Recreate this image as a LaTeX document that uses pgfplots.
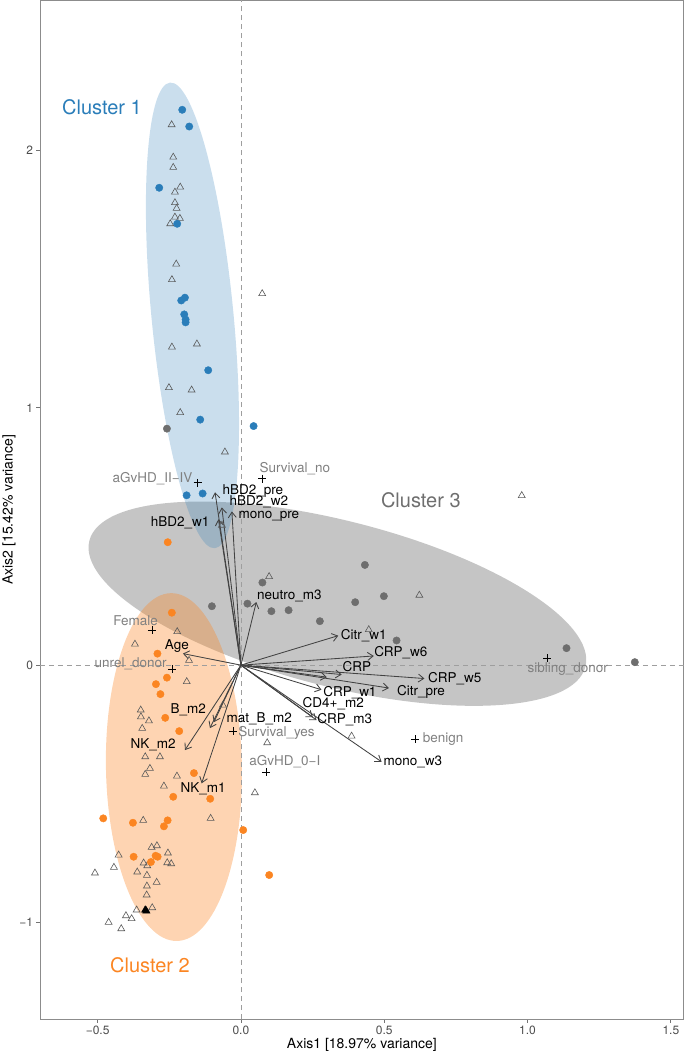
\documentclass[border=0pt]{standalone}
\usepackage{pgfplots}
\pgfplotsset{compat=1.18}
\usepackage{fontspec}
\setmainfont{TeX Gyre Heros}
\usetikzlibrary{arrows.meta}
\definecolor{cA}{HTML}{2A7DB9}
\definecolor{cB}{HTML}{FB8522}
\definecolor{cC}{HTML}{6E6E6E}
\definecolor{cE}{HTML}{7F7F7F}
\definecolor{supp}{HTML}{808080}
\newcommand{\arr}[2]{\addplot[black!74, line width=0.85pt, -{Straight Barb[length=5.5pt,width=8pt,line width=0.85pt]}] coordinates {(0,0) (#1,#2)};}
\newcommand{\lab}[3]{\node[font=\fontsize{13.5}{15}\selectfont, text=black, inner sep=0pt] at (axis cs:#1,#2) {#3};}
\newcommand{\slab}[3]{\node[font=\fontsize{13.5}{15}\selectfont, text=supp, inner sep=0pt] at (axis cs:#1,#2) {#3};}
\begin{document}
\begin{tikzpicture}
\begin{axis}[
  at={(0,0)}, anchor=south west,
  scale only axis, width=644pt, height=1019pt,
  xmin=-0.701, xmax=1.545, ymin=-1.375, ymax=2.583,
  axis line style={draw=black!45, line width=0.7pt},
  xtick={-0.5,0,0.5,1,1.5}, xticklabels={−0.5,0.0,0.5,1.0,1.5},
  ytick={-1,0,1,2}, yticklabels={−1,0,1,2},
  tick align=outside, tick pos=left, major tick length=3.5pt,
  tick style={draw=black!55, line width=0.7pt},
  ticklabel style={font=\fontsize{12}{13}\selectfont, text=black!70},
  xlabel={Axis1 [18.97\% variance]}, ylabel={Axis2 [15.42\% variance]},
  every axis x label/.style={at={(axis description cs:0.5,-0.0255)}, anchor=center, font=\fontsize{14}{16}\selectfont},
  every axis y label/.style={at={(axis description cs:-0.0482,0.5)}, anchor=center, rotate=90, font=\fontsize{14}{16}\selectfont},
  clip=false,
]
% ellipses
\fill[cE, opacity=0.45, rotate around={-14.25:(axis cs:0.3366,0.2388)}] (axis cs:0.3366,0.2388) ellipse [x radius=256pt, y radius=83pt];
\fill[cA, opacity=0.25, rotate around={5.5:(axis cs:-0.169,1.359)}] (axis cs:-0.169,1.359) ellipse [x radius=41pt, y radius=234pt];
\fill[cB, opacity=0.35, rotate around={1:(axis cs:-0.2337,-0.396)}] (axis cs:-0.2337,-0.396) ellipse [x radius=68pt, y radius=174pt];
% reference lines
\addplot[black!38, line width=0.8pt, dash pattern=on 5pt off 4pt] coordinates {(0,-1.375) (0,2.583)};
\addplot[black!38, line width=0.8pt, dash pattern=on 5pt off 4pt] coordinates {(-0.701,0) (1.545,0)};
% triangles
\addplot[only marks, color=black!65, mark=triangle, mark size=4pt, mark options={line width=0.6pt}] coordinates {
(-0.2417,2.0998) (-0.2361,1.974) (-0.2361,1.934) (-0.2117,1.8575) (-0.2302,1.838)
(-0.2302,1.797) (-0.2243,1.775) (-0.2302,1.741) (-0.2128,1.736) (-0.2466,1.715)
(-0.2257,1.5585) (-0.2407,1.498) (-0.2407,1.236) (-0.1535,1.248) (-0.2511,1.0784)
(-0.172,1.069) (-0.2117,0.9814) (0.0743,1.4435) (-0.0558,0.8283) (0.9798,0.659)
(0.0984,0.3441) (0.6226,0.2718) (0.4461,0.1379) (-0.2222,0.1301) (-0.3697,0.0816)
(-0.181,0.0186) (-0.189,-0.0641) (-0.3495,-0.1744) (-0.0663,0.5437) (0.3861,-0.2757)
(0.0917,-0.3017) (-0.0628,-0.1553) (-0.2825,-0.3561) (-0.3488,-0.2008) (-0.3209,-0.2163)
(-0.3443,-0.2458) (-0.3338,-0.3561) (-0.3174,-0.4012) (-0.3338,-0.4245) (-0.2232,-0.4311)
(-0.2686,-0.4699) (0.0488,-0.4959) (-0.3408,-0.6031) (-0.1057,-0.5953) (-0.4266,-0.7379)
(-0.3115,-0.708) (-0.293,-0.7017) (-0.2546,-0.7301) (-0.443,-0.7856) (-0.3394,-0.7689)
(-0.3268,-0.7794) (-0.2571,-0.7678) (-0.2431,-0.7717) (-0.5092,-0.8078) (-0.3617,-0.8039)
(-0.3279,-0.8167) (-0.294,-0.8439) (-0.3279,-0.8583) (-0.3289,-0.8932) (-0.3094,-0.9425)
(-0.3638,-0.9515) (-0.4011,-0.9736) (-0.3812,-0.9852) (-0.4615,-0.9992) (-0.4175,-1.0241)
};
\addplot[only marks, color=black, mark=triangle*, mark size=4.3pt] coordinates {(-0.3338,-0.9515) (-0.3300,-0.955)};
% blue points
\addplot[only marks, color=cA, mark=*, mark size=3.7pt] coordinates {
(-0.2047,2.158) (-0.1803,2.093) (-0.285,1.855) (-0.2222,1.715) (-0.1953,1.428)
(-0.2082,1.417) (-0.1978,1.363) (-0.1929,1.343) (-0.1929,1.332) (-0.1141,1.146)
(-0.142,0.954) (0.0443,0.929) (-0.1894,0.660) (-0.1336,0.667)
};
% grey points
\addplot[only marks, color=cC, mark=*, mark size=3.7pt] coordinates {
(-0.2581,0.919) (0.075,0.321) (-0.1012,0.229) (0.0227,0.239) (0.1064,0.2097)
(0.1664,0.2136) (0.2755,0.1709) (0.4325,0.3895) (0.3987,0.2447) (0.4988,0.268)
(0.5431,0.0959) (1.136,0.066) (1.3743,0.0117)
};
% orange points
\addplot[only marks, color=cB, mark=*, mark size=3.7pt] coordinates {
(-0.2553,0.4777) (-0.241,0.2039) (-0.2912,0.0447) (-0.2581,-0.0485) (-0.2965,-0.0738)
(-0.2808,-0.1126) (-0.264,-0.2047) (-0.2152,-0.2563) (-0.1639,-0.4194) (-0.2361,-0.5115)
(-0.1071,-0.5192) (-0.4803,-0.5953) (-0.3767,-0.6124) (-0.2557,-0.6031) (-0.2686,-0.6264)
(0.008,-0.6408) (0.0987,-0.8155) (-0.3743,-0.7445) (-0.2975,-0.7406) (-0.2905,-0.7445)
(-0.3139,-0.765)
};
% supplementary crosses
\addplot[only marks, color=black, mark=+, mark size=4pt, mark options={line width=0.6pt}] coordinates {
(-0.1514,0.7087) (0.0746,0.7247) (-0.3104,0.1367) (-0.241,-0.0167) (1.068,0.0264)
(-0.0279,-0.2563) (0.0872,-0.4155) (0.6069,-0.2885)
};
% arrows
\arr{-0.0903}{0.6718}
\arr{-0.0666}{0.6128}
\arr{-0.0314}{0.5973}
\arr{-0.0785}{0.567}
\arr{0.0537}{0.2454}
\arr{-0.2023}{0.045}
\arr{0.3397}{0.1146}
\arr{0.4636}{0.0357}
\arr{0.3516}{-0.0365}
\arr{0.6404}{-0.052}
\arr{0.5166}{-0.0889}
\arr{0.2811}{-0.0955}
\arr{0.30}{-0.0466}
\arr{0.264}{-0.2136}
\arr{0.2511}{-0.2019}
\arr{0.4908}{-0.3755}
\arr{-0.0942}{-0.2214}
\arr{-0.1081}{-0.2447}
\arr{-0.1953}{-0.3301}
\arr{-0.1371}{-0.4594}
% arrow labels
\lab{0.0419}{0.6784}{hBD2\_pre}
\lab{0.0628}{0.6330}{hBD2\_w2}
\lab{0.0977}{0.5800}{mono\_pre}
\lab{-0.2117}{0.5538}{hBD2\_w1}
\lab{0.1692}{0.2691}{neutro\_m3}
\lab{-0.2232}{0.075}{Age}
\lab{0.4283}{0.1146}{Citr\_w1}
\lab{0.5581}{0.0489}{CRP\_w6}
\lab{0.4046}{-0.0039}{CRP}
\lab{0.7464}{-0.052}{CRP\_w5}
\lab{0.6285}{-0.1021}{Citr\_pre}
\lab{0.3802}{-0.1050}{CRP\_w1}
\lab{0.3223}{-0.1510}{CD4+\_m2}
\lab{0.3627}{-0.2136}{CRP\_m3}
\lab{0.5999}{-0.3755}{mono\_w3}
\lab{0.0638}{-0.207}{mat\_B\_m2}
\lab{-0.1838}{-0.1748}{B\_m2}
\lab{-0.3059}{-0.3107}{NK\_m2}
\lab{-0.1315}{-0.4788}{NK\_m1}
% supplementary labels
\slab{-0.3083}{0.7247}{aGvHD\_II−IV}
\slab{0.1883}{0.7639}{Survival\_no}
\slab{-0.3673}{0.1736}{Female}
\slab{-0.3847}{0.0054}{unrel\_donor}
\slab{0.1245}{-0.2652}{Survival\_yes}
\slab{0.1535}{-0.3755}{aGvHD\_0−I}
\slab{0.7056}{-0.2874}{benign}
\slab{1.1406}{-0.0167}{sibling\_donor}
% cluster labels
\node[font=\fontsize{20}{22}\selectfont, text=cA] at (axis cs:-0.4848,2.168) {Cluster 1};
\node[font=\fontsize{20}{22}\selectfont, text=cB] at (axis cs:-0.3174,-1.165) {Cluster 2};
\node[font=\fontsize{20}{22}\selectfont, text=cC] at (axis cs:0.6278,0.642) {Cluster 3};
\end{axis}
\pgfresetboundingbox
\path (-40pt,-36pt) rectangle (645pt,1019.4pt);
\end{tikzpicture}
\end{document}
